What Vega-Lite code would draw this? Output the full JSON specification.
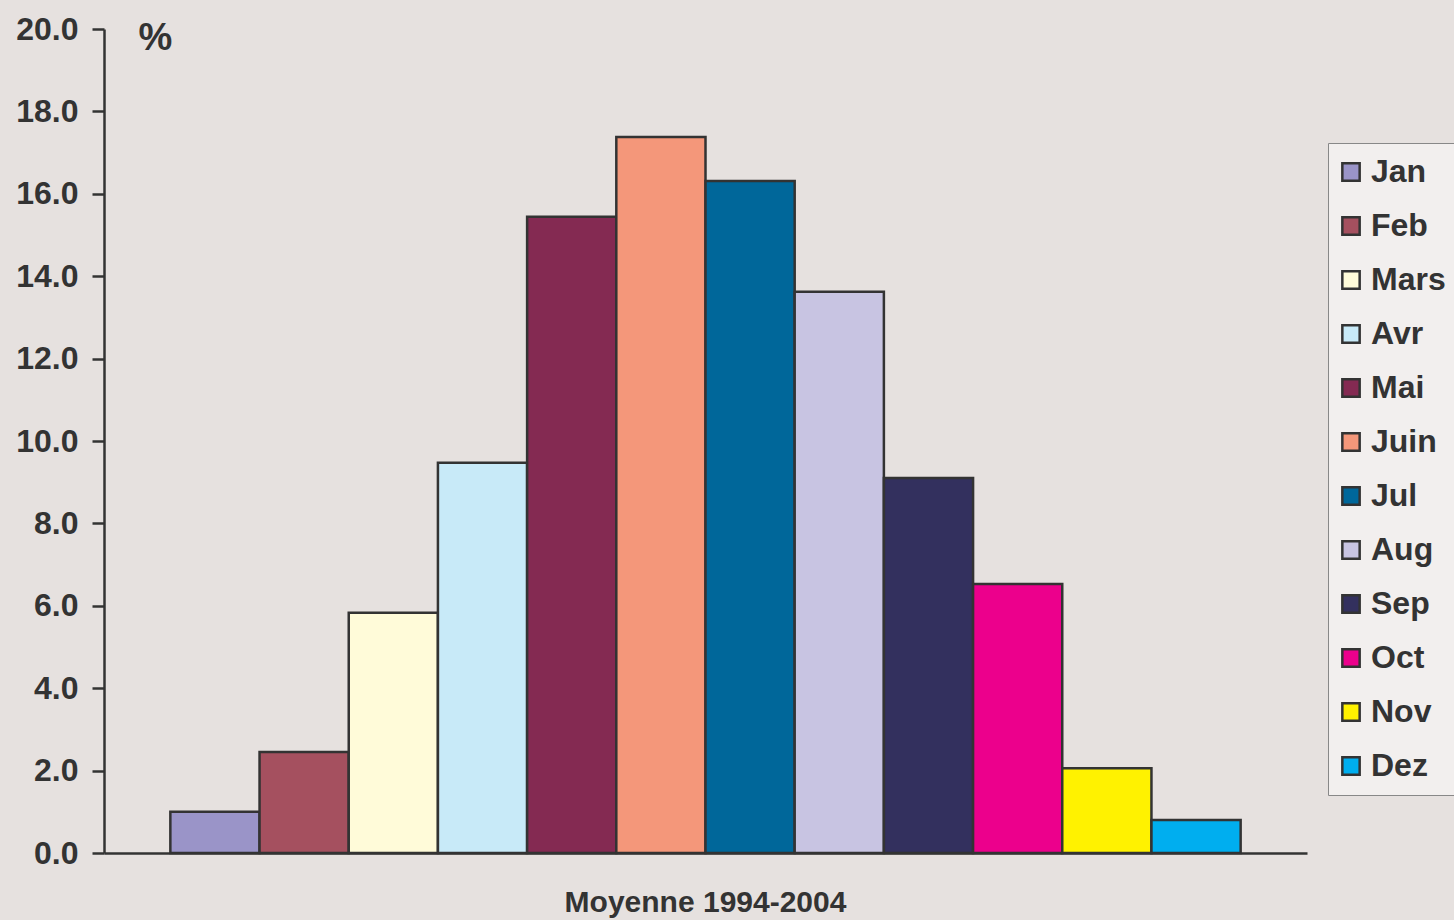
{
  "$schema": "https://vega.github.io/schema/vega-lite/v6.json",
  "width": 1203,
  "height": 824,
  "autosize": {"type": "none"},
  "padding": {"left": 104, "top": 29, "right": 147, "bottom": 67},
  "background": "#e6e1df",
  "config": {
    "view": {"stroke": null},
    "font": "Liberation Sans"
  },
  "data": {
    "values": [
      {"groupe": "Moyenne 1994-2004", "mois": "Jan", "pct": 1.0},
      {"groupe": "Moyenne 1994-2004", "mois": "Feb", "pct": 2.45},
      {"groupe": "Moyenne 1994-2004", "mois": "Mars", "pct": 5.83},
      {"groupe": "Moyenne 1994-2004", "mois": "Avr", "pct": 9.47},
      {"groupe": "Moyenne 1994-2004", "mois": "Mai", "pct": 15.44},
      {"groupe": "Moyenne 1994-2004", "mois": "Juin", "pct": 17.38},
      {"groupe": "Moyenne 1994-2004", "mois": "Jul", "pct": 16.31},
      {"groupe": "Moyenne 1994-2004", "mois": "Aug", "pct": 13.62},
      {"groupe": "Moyenne 1994-2004", "mois": "Sep", "pct": 9.10},
      {"groupe": "Moyenne 1994-2004", "mois": "Oct", "pct": 6.53},
      {"groupe": "Moyenne 1994-2004", "mois": "Nov", "pct": 2.06},
      {"groupe": "Moyenne 1994-2004", "mois": "Dez", "pct": 0.80}
    ]
  },
  "mark": {"type": "bar", "stroke": "#333333", "strokeWidth": 2.5, "strokeJoin": "miter"},
  "encoding": {
    "x": {
      "field": "groupe",
      "type": "nominal",
      "scale": {"paddingInner": 0, "paddingOuter": 0.062},
      "axis": {
        "title": null,
        "labelAngle": 0,
        "ticks": false,
        "labelPadding": 34,
        "labelLimit": 0,
        "labelFontSize": 30,
        "labelFontWeight": "bold",
        "labelColor": "#333333",
        "domainColor": "#333333",
        "domainWidth": 2.5
      }
    },
    "xOffset": {
      "field": "mois",
      "type": "nominal",
      "sort": ["Jan", "Feb", "Mars", "Avr", "Mai", "Juin", "Jul", "Aug", "Sep", "Oct", "Nov", "Dez"],
      "scale": {"paddingInner": 0, "paddingOuter": 0}
    },
    "y": {
      "field": "pct",
      "type": "quantitative",
      "scale": {"domain": [0, 20], "nice": false},
      "axis": {
        "title": "%",
        "titleAngle": 0,
        "titleX": 51,
        "titleY": 9,
        "titleAlign": "center",
        "titleBaseline": "middle",
        "titleFontSize": 38,
        "titleFontWeight": "bold",
        "titleColor": "#333333",
        "values": [0, 2, 4, 6, 8, 10, 12, 14, 16, 18, 20],
        "format": ".1f",
        "grid": false,
        "tickSize": 12,
        "tickWidth": 2.5,
        "tickColor": "#333333",
        "labelPadding": 14,
        "labelFontSize": 32,
        "labelFontWeight": "bold",
        "labelColor": "#333333",
        "domainColor": "#333333",
        "domainWidth": 2.5
      }
    },
    "color": {
      "field": "mois",
      "type": "nominal",
      "sort": ["Jan", "Feb", "Mars", "Avr", "Mai", "Juin", "Jul", "Aug", "Sep", "Oct", "Nov", "Dez"],
      "scale": {
        "domain": ["Jan", "Feb", "Mars", "Avr", "Mai", "Juin", "Jul", "Aug", "Sep", "Oct", "Nov", "Dez"],
        "range": ["#9A94C8", "#A5505F", "#FFFBD9", "#C8EAF8", "#842A52", "#F4977A", "#00679A", "#C8C4E2", "#33305E", "#EC008C", "#FFF200", "#00AEEF"]
      },
      "legend": {
        "title": null,
        "orient": "none",
        "legendX": 1224,
        "legendY": 114,
        "symbolType": "square",
        "symbolSize": 300,
        "symbolStrokeColor": "#333333",
        "symbolStrokeWidth": 2.5,
        "symbolOpacity": 1,
        "symbolOffset": -6,
        "labelFontSize": 32,
        "labelFontWeight": "bold",
        "labelColor": "#333333",
        "labelOffset": 4,
        "rowPadding": 22,
        "padding": 13,
        "strokeColor": "#888888",
        "fillColor": "#f2efee"
      }
    }
  }
}
